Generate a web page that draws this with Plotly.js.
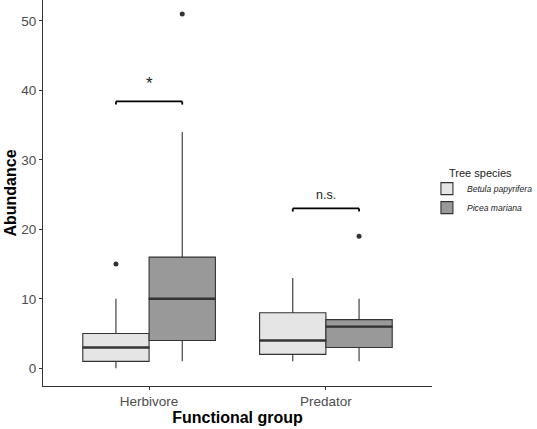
<!DOCTYPE html>
<html>
<head>
<meta charset="utf-8">
<script src="https://cdn.plot.ly/plotly-3.0.1.min.js"></script>
<style>html,body{margin:0;padding:0;background:#fff}#chart{width:537px;height:429px}</style>
</head>
<body>
<div id="chart"></div>
<script>
// ---- data ----
const groups = ['Herbivore', 'Predator'];
const speciesNames = ['Betula papyrifera', 'Picea mariana'];
const legendTitle = 'Tree species';

const betulaLow    = [0, 1];
const betulaQ1     = [1, 2];
const betulaMedian = [3, 4];
const betulaQ3     = [5, 8];
const betulaHigh   = [10, 13];
const betulaOutX   = ['Herbivore'];
const betulaOutY   = [15];

const piceaLow    = [1, 1];
const piceaQ1     = [4, 3];
const piceaMedian = [10, 6];
const piceaQ3     = [16, 7];
const piceaHigh   = [34, 10];
const piceaOutX   = ['Herbivore', 'Predator'];
const piceaOutY   = [51, 19];

const sigLabels = ['*', 'n.s.'];
const sigBracketY = [38.4, 23.0];
const sigLabelY = [41.0, 24.9];

// ---- styles ----
const fills = ['#e5e5e5', '#999999'];
const lineCol = '#333333';
const dodge = 0.1875;

function boxTrace(name, low, q1, med, q3, high, fill, og) {
  return {
    type: 'box', name: name, x: groups, offsetgroup: og,
    lowerfence: low, q1: q1, median: med, q3: q3, upperfence: high,
    fillcolor: fill, line: {color: lineCol, width: 1.1},
    whiskerwidth: 0, boxpoints: false, hoverinfo: 'skip'
  };
}
function outTrace(x, y, og) {
  return {type: 'scatter', mode: 'markers', x: x, y: y, offsetgroup: og,
    marker: {color: lineCol, size: 5}, showlegend: false, hoverinfo: 'skip'};
}
function medTrace(y, og) {
  return {type: 'scatter', mode: 'markers', x: groups, y: y, offsetgroup: og,
    marker: {symbol: 'line-ew', size: 48, color: lineCol, line: {color: lineCol, width: 2.4}},
    showlegend: false, hoverinfo: 'skip'};
}

const data = [
  boxTrace(speciesNames[0], betulaLow, betulaQ1, betulaMedian, betulaQ3, betulaHigh, fills[0], 'B'),
  boxTrace(speciesNames[1], piceaLow, piceaQ1, piceaMedian, piceaQ3, piceaHigh, fills[1], 'P'),
  medTrace(betulaMedian, 'B'),
  medTrace(piceaMedian, 'P'),
  outTrace(betulaOutX, betulaOutY, 'B'),
  outTrace(piceaOutX, piceaOutY, 'P')
];

const shapes = [];
const annotations = [];
groups.forEach((g, i) => {
  const y = sigBracketY[i], d = 0.45;
  const l = {color: '#000', width: 1.8};
  shapes.push({type: 'line', xref: 'x', yref: 'y', x0: i - dodge, x1: i + dodge, y0: y, y1: y, line: l});
  shapes.push({type: 'line', xref: 'x', yref: 'y', x0: i - dodge, x1: i - dodge, y0: y, y1: y - d, line: l});
  shapes.push({type: 'line', xref: 'x', yref: 'y', x0: i + dodge, x1: i + dodge, y0: y, y1: y - d, line: l});
  annotations.push({xref: 'x', yref: 'y', x: i, y: sigLabelY[i], text: sigLabels[i], showarrow: false,
    font: {family: 'Liberation Sans, Arial, sans-serif', size: i === 0 ? 17 : 12.5, color: '#222'}});
});
annotations.push({xref: 'paper', yref: 'paper', x: 1.038, xanchor: 'left', y: 0.552, yanchor: 'middle',
  text: legendTitle, showarrow: false,
  font: {family: 'Liberation Sans, Arial, sans-serif', size: 11, color: '#222'}});

const layout = {
  width: 537, height: 429,
  margin: {l: 43, r: 105, t: 0, b: 43, autoexpand: false},
  paper_bgcolor: '#fff', plot_bgcolor: '#fff',
  font: {family: 'Liberation Sans, Arial, sans-serif'},
  boxmode: 'group', boxgap: 0.25, boxgroupgap: 0,
  scattermode: 'group', scattergap: 0.25,
  showlegend: true,
  legend: {x: 0.987, xanchor: 'left', y: 0.549, yanchor: 'top',
    font: {size: 8.6, style: 'italic', color: '#222'},
    itemwidth: 30, tracegroupgap: 0, bgcolor: 'rgba(0,0,0,0)'},
  xaxis: {
    type: 'category', categoryorder: 'array', categoryarray: groups,
    range: [-0.6, 1.6], showgrid: false, zeroline: false,
    showline: true, linecolor: '#333', linewidth: 1.1,
    ticks: 'outside', ticklen: 3, tickcolor: '#333', tickwidth: 1.1,
    tickfont: {size: 13.5, color: '#4d4d4d'},
    title: {text: 'Functional group', font: {size: 16, color: '#000', weight: 'bold'}, standoff: 2}
  },
  yaxis: {
    range: [-2.55, 53], showgrid: false, zeroline: false,
    showline: true, linecolor: '#333', linewidth: 1.1,
    ticks: 'outside', ticklen: 3, tickcolor: '#333', tickwidth: 1.1,
    tickvals: [0, 10, 20, 30, 40, 50],
    tickfont: {size: 13.5, color: '#4d4d4d'},
    title: {text: 'Abundance', font: {size: 16, color: '#000', weight: 'bold'}, standoff: 0}
  },
  shapes: shapes,
  annotations: annotations
};

Plotly.newPlot('chart', data, layout, {staticPlot: true});
</script>
</body>
</html>
